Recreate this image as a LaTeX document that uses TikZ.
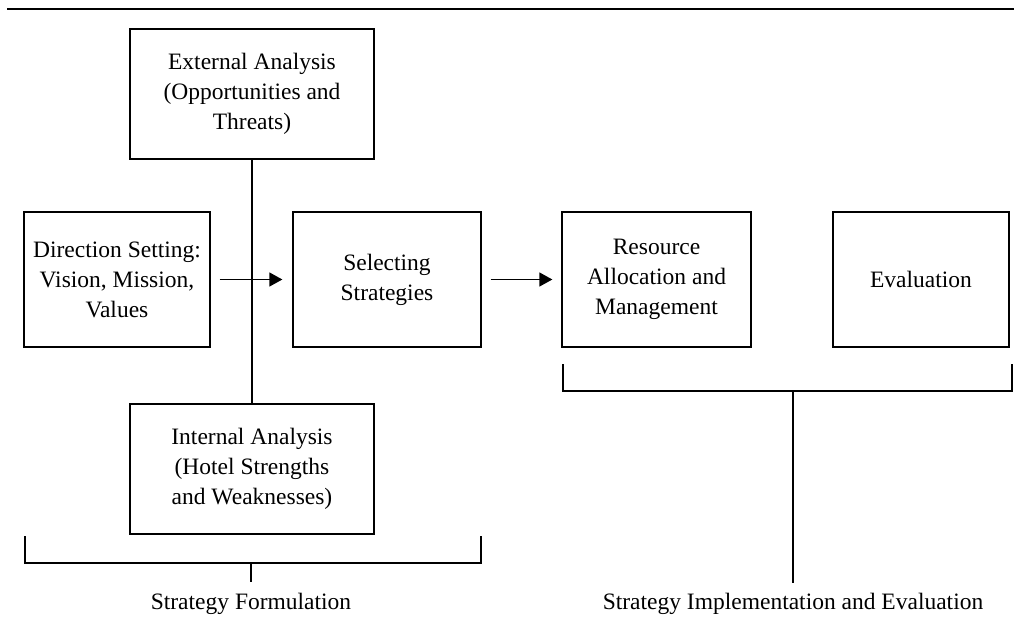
\documentclass[tikz,border=0pt]{standalone}
\usepackage{fontspec}
\setmainfont{Liberation Serif}
\usetikzlibrary{arrows.meta}
\begin{document}
\begin{tikzpicture}[x=1pt,y=-1pt,
  line width=1.3pt,
  txt/.style={font=\fontsize{23.5}{30}\selectfont, align=center},
  box/.style={draw, rectangle, inner sep=0pt, txt},
  arr/.style={-{Triangle[length=13pt,width=14pt]}},
  lbl/.style={txt, inner sep=0pt}
]
\useasboundingbox (0,0) rectangle (1014,616);
\draw (7,9) -- (1014,9);

\node[box, minimum width=244pt, minimum height=130pt] (ext) at (252,94) {External Analysis\\(Opportunities and\\Threats)};
\node[box, minimum width=186pt, minimum height=135pt] (dir) at (117,279.5) {Direction Setting:\\Vision, Mission,\\Values};
\node[box, minimum width=188pt, minimum height=135pt] (sel) at (387,279.5) {Selecting\\Strategies};
\node[box, minimum width=189pt, minimum height=135pt] (res) at (656.5,279.5) {Resource\\Allocation and\\Management};
\node[box, minimum width=176pt, minimum height=135pt] (eva) at (921,279.5) {Evaluation};
\node[box, minimum width=244pt, minimum height=130pt] (int) at (252,469) {Internal Analysis\\(Hotel Strengths\\and Weaknesses)};

\draw (ext.south) -- (int.north);
\draw[arr, shorten <=9pt, shorten >=10pt] (dir.east) -- (sel.west);
\draw[arr, shorten <=9pt, shorten >=9pt] (sel.east) -- (res.west);

% left bracket
\coordinate (lbl1) at (25,536);
\coordinate (lbl2) at (481,536);
\coordinate (lmid) at (251,563);
\coordinate (lstem) at (251,582);
\draw (lbl1) -- (25,563) -- (481,563) -- (lbl2);
\draw (lmid) -- (lstem);
\node[lbl, anchor=base] (form) at (251,609) {Strategy Formulation};

% right bracket
\coordinate (rbl1) at (563,364);
\coordinate (rbl2) at (1012,364);
\coordinate (rmid) at (793,391);
\coordinate (rstem) at (793,583);
\draw (rbl1) -- (563,391) -- (1012,391) -- (rbl2);
\draw (rmid) -- (rstem);
\node[lbl, anchor=base] (impl) at (793,609) {Strategy Implementation and Evaluation};
\end{tikzpicture}
\end{document}
